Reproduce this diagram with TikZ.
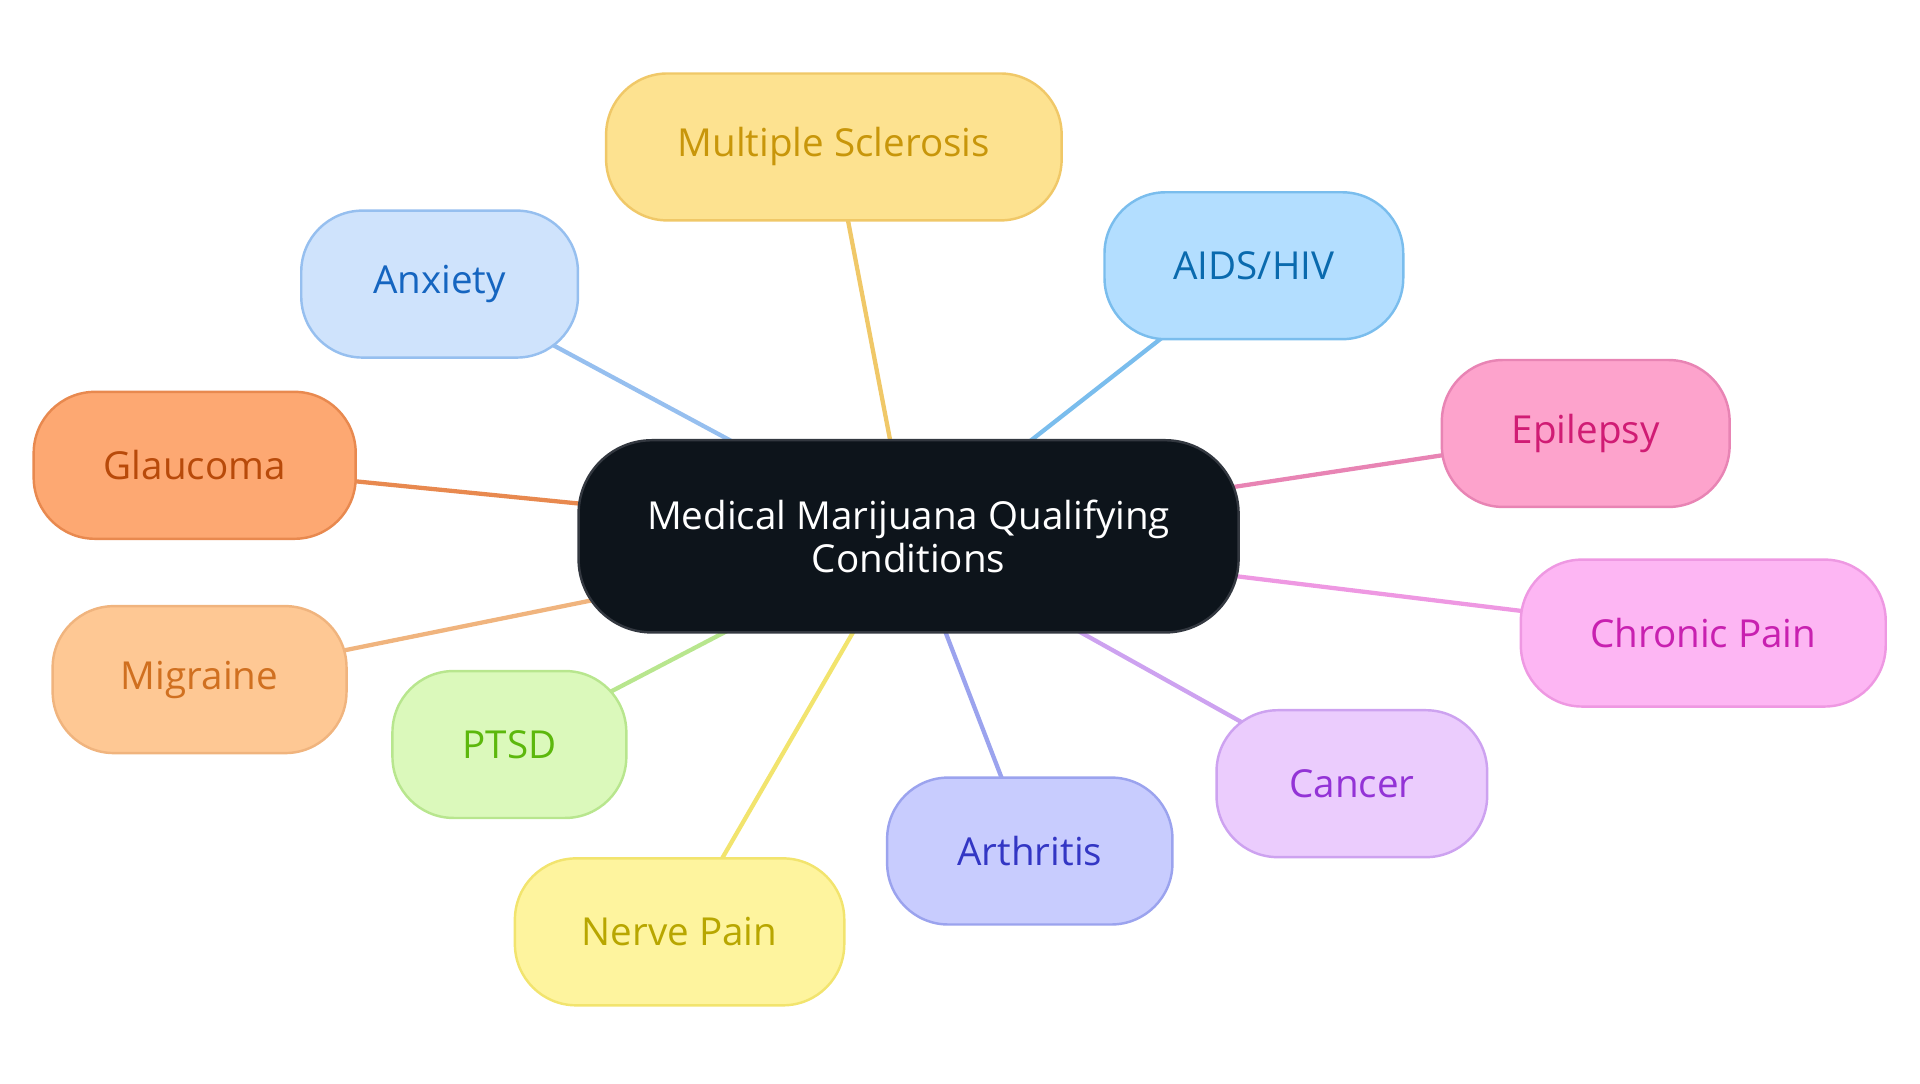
\documentclass[tikz,border=0pt]{standalone}
\usepackage{fontspec}
\setmainfont{Open Sans}
\usetikzlibrary{backgrounds}
\definecolor{coreFill}{HTML}{0D141B}
\definecolor{coreLine}{HTML}{333840}
\definecolor{msFill}{HTML}{FDE290}
\definecolor{msLine}{HTML}{F0C868}
\definecolor{msText}{HTML}{C8960A}
\definecolor{anxFill}{HTML}{CFE3FC}
\definecolor{anxLine}{HTML}{96BFEF}
\definecolor{anxText}{HTML}{1565C0}
\definecolor{aidsFill}{HTML}{B3DEFF}
\definecolor{aidsLine}{HTML}{7ABDED}
\definecolor{aidsText}{HTML}{0A6AAE}
\definecolor{epiFill}{HTML}{FDA3CC}
\definecolor{epiLine}{HTML}{E884B4}
\definecolor{epiText}{HTML}{D01C74}
\definecolor{glauFill}{HTML}{FDA872}
\definecolor{glauLine}{HTML}{E8894F}
\definecolor{glauText}{HTML}{B84A0A}
\definecolor{chronFill}{HTML}{FDB6F3}
\definecolor{chronLine}{HTML}{EE98E2}
\definecolor{chronText}{HTML}{C820B0}
\definecolor{migFill}{HTML}{FEC894}
\definecolor{migLine}{HTML}{F0B47E}
\definecolor{migText}{HTML}{D07020}
\definecolor{ptsdFill}{HTML}{DBF9BB}
\definecolor{ptsdLine}{HTML}{B8E68E}
\definecolor{ptsdText}{HTML}{5CB80C}
\definecolor{cancFill}{HTML}{EBCCFD}
\definecolor{cancLine}{HTML}{CDA2F0}
\definecolor{cancText}{HTML}{9333D6}
\definecolor{arthFill}{HTML}{C8CCFE}
\definecolor{arthLine}{HTML}{9BA3EE}
\definecolor{arthText}{HTML}{3336C4}
\definecolor{nerveFill}{HTML}{FEF49E}
\definecolor{nerveLine}{HTML}{F2E46E}
\definecolor{nerveText}{HTML}{B8A600}
\tikzset{topic/.style={draw, rounded corners=50pt, line width=2pt, minimum height=120pt,
    align=center, inner sep=0pt, font=\fontsize{31.5}{35}\selectfont},
  link/.style={line width=3.5pt}}

\begin{document}
\begin{tikzpicture}[x=1pt, y=-1pt]
        \useasboundingbox (0, 0) rectangle (1568, 884.5);
        \node[topic, fill=coreFill, draw=coreLine, text=white, rounded corners=60pt,
          minimum width=539pt, minimum height=157pt] (core) at (742, 438)
          {Medical Marijuana Qualifying\\Conditions};
        \node[topic, fill=msFill, draw=msLine, text=msText, minimum width=372pt] (ms) at (681, 120) {Multiple Sclerosis};
        \node[topic, fill=anxFill, draw=anxLine, text=anxText, minimum width=226pt] (anx) at (359, 232) {Anxiety};
        \node[topic, fill=aidsFill, draw=aidsLine, text=aidsText, minimum width=244pt] (aids) at (1024, 217) {AIDS/HIV};
        \node[topic, fill=epiFill, draw=epiLine, text=epiText, minimum width=235pt] (epi) at (1295, 354) {Epilepsy};
        \node[topic, fill=glauFill, draw=glauLine, text=glauText, minimum width=263pt] (glau) at (159, 380) {Glaucoma};
        \node[topic, fill=chronFill, draw=chronLine, text=chronText, minimum width=298pt] (chron) at (1391, 517) {Chronic Pain};
        \node[topic, fill=migFill, draw=migLine, text=migText, minimum width=240pt] (mig) at (163, 555) {Migraine};
        \node[topic, fill=ptsdFill, draw=ptsdLine, text=ptsdText, minimum width=191pt] (ptsd) at (416, 608) {PTSD};
        \node[topic, fill=cancFill, draw=cancLine, text=cancText, minimum width=221pt] (canc) at (1104, 640) {Cancer};
        \node[topic, fill=arthFill, draw=arthLine, text=arthText, minimum width=233pt] (arth) at (841, 695) {Arthritis};
        \node[topic, fill=nerveFill, draw=nerveLine, text=nerveText, minimum width=269pt] (nerve) at (555, 761) {Nerve Pain};
        \begin{scope}[on background layer]
          \foreach \n in {ms, anx, aids, epi, glau, chron, mig, ptsd, canc, arth, nerve}{
            \draw[link, \n Line] (core.center) -- (\n.center);
          }
        \end{scope}
      \end{tikzpicture}
\end{document}
